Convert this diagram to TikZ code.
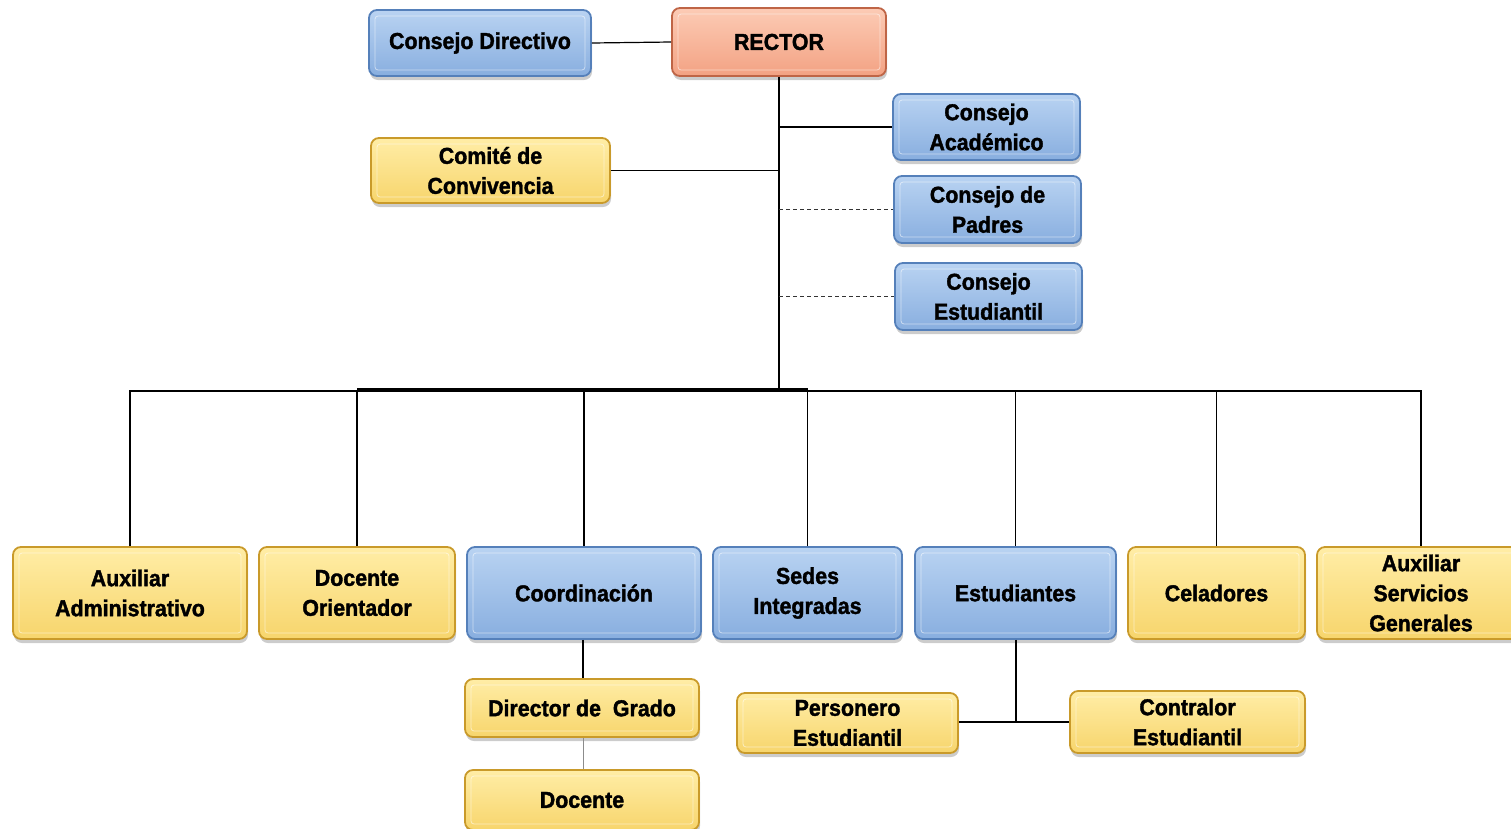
\documentclass[tikz,border=0pt]{standalone}
\usepackage{fontspec}
\setmainfont{Liberation Sans}[FakeStretch=0.93, BoldFeatures={FakeBold=1.6}]
\usetikzlibrary{shadows}
\definecolor{bluetop}{HTML}{B9D3F2}
\definecolor{bluebot}{HTML}{88AEDF}
\definecolor{blueedge}{HTML}{5580BA}
\definecolor{yeltop}{HTML}{FFEDA6}
\definecolor{yelbot}{HTML}{F7D56C}
\definecolor{yeledge}{HTML}{C99A2A}
\definecolor{ortop}{HTML}{FCCBB5}
\definecolor{orbot}{HTML}{F3A283}
\definecolor{oredge}{HTML}{BF6546}
\tikzset{
  x=1pt, y=-1pt,
  box/.style={rounded corners=8pt, line width=1.8pt, align=center, inner sep=0pt,
    font=\fontsize{23}{30}\selectfont\bfseries,
    drop shadow={shadow xshift=1pt, shadow yshift=-4pt, opacity=0.4},
    path picture={\draw[white, opacity=0.55, line width=0.8pt, rounded corners=3pt]
      ([shift={(6pt,-6pt)}]path picture bounding box.north west) rectangle
      ([shift={(-6pt,6pt)}]path picture bounding box.south east);}},
  bluebox/.style={box, draw=blueedge, top color=bluetop, bottom color=bluebot},
  yelbox/.style={box, draw=yeledge, top color=yeltop, bottom color=yelbot},
  orbox/.style={box, draw=oredge, top color=ortop, bottom color=orbot},
  link/.style={draw=black, line width=1.2pt},
  dlink/.style={draw=black!80, line width=1.2pt, dash pattern=on 4pt off 3pt},
}
\begin{document}
\begin{tikzpicture}
\useasboundingbox (0,0) rectangle (1511,828);
\clip (0,0) rectangle (1511,828);
% top
\node[bluebox, minimum width=222pt, minimum height=66pt] (cdir) at (480,43) {Consejo Directivo};
\node[orbox, minimum width=214pt, minimum height=68pt] (rector) at (779,42) {RECTOR};
\node[bluebox, minimum width=187pt, minimum height=66pt] (cacad) at (986.5,127) {Consejo\\Académico};
\node[yelbox, minimum width=239pt, minimum height=65pt] (comite) at (490.5,170.5) {Comité de\\Convivencia};
\node[bluebox, minimum width=187pt, minimum height=67pt] (cpad) at (987.5,209.5) {Consejo de\\Padres};
\node[bluebox, minimum width=187pt, minimum height=67pt] (cest) at (988.5,296.5) {Consejo\\Estudiantil};
% bottom row
\node[yelbox, minimum width=234pt, minimum height=92pt] (auxadm) at (130,593) {Auxiliar\\Administrativo};
\node[yelbox, minimum width=196pt, minimum height=92pt] (docor) at (357,593) {Docente\\Orientador};
\node[bluebox, minimum width=234pt, minimum height=92pt] (coord) at (584,593) {Coordinación};
\node[bluebox, minimum width=189pt, minimum height=92pt] (sedes) at (807.5,593) {Sedes\\Integradas};
\node[bluebox, minimum width=201pt, minimum height=92pt] (estud) at (1015.5,593) {Estudiantes};
\node[yelbox, minimum width=177pt, minimum height=92pt] (celad) at (1216.5,593) {Celadores};
\node[yelbox, minimum width=208pt, minimum height=92pt] (auxserv) at (1421,593) {Auxiliar\\Servicios\\Generales};
% lower
\node[yelbox, minimum width=234pt, minimum height=58pt] (dirgrado) at (582,708) {Director de\ \ Grado};
\node[yelbox, minimum width=234pt, minimum height=60pt] (docente) at (582,800) {Docente};
\node[yelbox, minimum width=221pt, minimum height=60pt] (person) at (847.5,723) {Personero\\Estudiantil};
\node[yelbox, minimum width=235pt, minimum height=62pt] (contral) at (1187.5,722) {Contralor\\Estudiantil};
% connectors
\coordinate (bus) at (779,391);
\draw[link] (cdir.east) -- (rector.west);
\draw[link] (rector.south) -- (bus);
\draw[link] (rector.south |- cacad.west) -- (cacad.west);
\draw[link] (comite.east) -- (rector.south |- comite.east);
\draw[dlink] (rector.south |- cpad.west) -- (cpad.west);
\draw[dlink] (rector.south |- cest.west) -- (cest.west);
\draw[link] (auxadm.north) |- (auxserv.north |- bus) -- (auxserv.north);
\draw[link] (docor.north |- 0,389) -- (sedes.north |- 0,389);
\foreach \n in {docor,coord,sedes,estud,celad}
  \draw[link] (\n.north) -- (\n.north |- bus);
\draw[link] (coord.south -| 583,0) -- (dirgrado.north -| 583,0);
\draw[draw=black!45, line width=1pt] (dirgrado.south -| 583,0) -- (docente.north -| 583,0);
\coordinate (sj) at (1016,722);
\draw[link] (estud.south -| sj) -- (sj);
\draw[link] (person.east |- sj) -- (contral.west |- sj);
\end{tikzpicture}
\end{document}
